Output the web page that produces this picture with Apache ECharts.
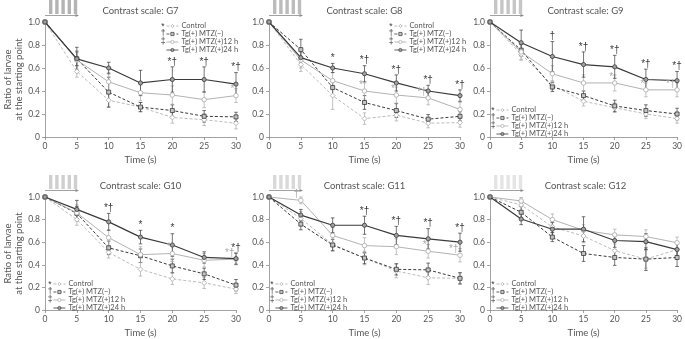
<!DOCTYPE html>
<html>
<head>
<meta charset="utf-8">
<script src="https://cdn.jsdelivr.net/npm/echarts@6/dist/echarts.min.js"></script>
<style>
  html, body { margin: 0; padding: 0; background: #fff; }
  #chart { width: 685px; height: 339px; }
</style>
</head>
<body>
<div id="chart"></div>
<script>
// Time points (s) and y-axis ticks
const times = [0, 5, 10, 15, 20, 25, 30];
const yTicks = [0, 0.2, 0.4, 0.6, 0.8, 1.0];

// Groups, in legend order, with their significance marks
const groupNames = ['Control', 'Tg(+) MTZ(−)', 'Tg(+) MTZ(+)12 h', 'Tg(+) MTZ(+)24 h'];
const groupMarks = ['*', '†', '‡', ''];

const panelTitles = ['Contrast scale: G7', 'Contrast scale: G8', 'Contrast scale: G9',
                     'Contrast scale: G10', 'Contrast scale: G11', 'Contrast scale: G12'];

// Ratio of larvae at the starting point: rows = Control, MTZ(−), MTZ(+)12 h, MTZ(+)24 h
const meanG7 = [
  [1, 0.57, 0.32, 0.26, 0.17, 0.15, 0.12],
  [1, 0.68, 0.39, 0.26, 0.23, 0.18, 0.175],
  [1, 0.67, 0.48, 0.385, 0.365, 0.325, 0.36],
  [1, 0.68, 0.60, 0.47, 0.50, 0.50, 0.46]
];
const errG7 = [
  [0, 0.05, 0.06, 0.04, 0.05, 0.05, 0.05],
  [0, 0.06, 0.13, 0.04, 0.05, 0.05, 0.04],
  [0, 0.08, 0.08, 0.07, 0.08, 0.07, 0.06],
  [0, 0.10, 0.05, 0.11, 0.11, 0.11, 0.10]
];
const meanG8 = [
  [1, 0.63, 0.36, 0.16, 0.19, 0.12, 0.125],
  [1, 0.76, 0.43, 0.30, 0.23, 0.155, 0.18],
  [1, 0.67, 0.49, 0.40, 0.365, 0.34, 0.24],
  [1, 0.69, 0.60, 0.55, 0.47, 0.40, 0.36]
];
const errG8 = [
  [0, 0.06, 0.12, 0.05, 0.05, 0.04, 0.04],
  [0, 0.09, 0.07, 0.06, 0.06, 0.04, 0.04],
  [0, 0.07, 0.07, 0.07, 0.07, 0.06, 0.06],
  [0, 0.06, 0.04, 0.07, 0.07, 0.05, 0.05]
];
const meanG9 = [
  [1, 0.72, 0.45, 0.31, 0.255, 0.20, 0.16],
  [1, 0.755, 0.435, 0.36, 0.27, 0.23, 0.20],
  [1, 0.74, 0.55, 0.47, 0.47, 0.41, 0.41],
  [1, 0.82, 0.70, 0.63, 0.61, 0.50, 0.49]
];
const errG9 = [
  [0, 0.05, 0.04, 0.04, 0.04, 0.04, 0.04],
  [0, 0.05, 0.04, 0.04, 0.05, 0.05, 0.05],
  [0, 0.07, 0.07, 0.07, 0.07, 0.06, 0.06],
  [0, 0.11, 0.13, 0.11, 0.10, 0.09, 0.08]
];
const meanG10 = [
  [1, 0.80, 0.51, 0.36, 0.275, 0.24, 0.185],
  [1, 0.855, 0.55, 0.48, 0.39, 0.32, 0.22],
  [1, 0.86, 0.64, 0.49, 0.50, 0.44, 0.45],
  [1, 0.89, 0.78, 0.645, 0.575, 0.465, 0.455]
];
const errG10 = [
  [0, 0.05, 0.05, 0.06, 0.05, 0.05, 0.04],
  [0, 0.06, 0.06, 0.06, 0.06, 0.05, 0.05],
  [0, 0.07, 0.07, 0.07, 0.07, 0.06, 0.05],
  [0, 0.08, 0.075, 0.06, 0.10, 0.05, 0.05]
];
const meanG11 = [
  [1, 0.81, 0.58, 0.46, 0.345, 0.285, 0.28],
  [1, 0.76, 0.575, 0.46, 0.36, 0.355, 0.28],
  [1, 0.97, 0.66, 0.57, 0.56, 0.52, 0.485],
  [1, 0.84, 0.75, 0.75, 0.66, 0.63, 0.60]
];
const errG11 = [
  [0, 0.06, 0.06, 0.06, 0.06, 0.06, 0.05],
  [0, 0.05, 0.05, 0.05, 0.05, 0.06, 0.05],
  [0, 0.03, 0.07, 0.07, 0.07, 0.06, 0.06],
  [0, 0.05, 0.065, 0.08, 0.08, 0.09, 0.08]
];
const meanG12 = [
  [1, 0.93, 0.735, 0.655, 0.525, 0.45, 0.535],
  [1, 0.865, 0.645, 0.50, 0.465, 0.45, 0.465],
  [1, 0.965, 0.80, 0.705, 0.665, 0.65, 0.595],
  [1, 0.805, 0.715, 0.715, 0.615, 0.605, 0.535]
];
const errG12 = [
  [0, 0.05, 0.05, 0.06, 0.06, 0.08, 0.06],
  [0, 0.05, 0.04, 0.07, 0.07, 0.10, 0.08],
  [0, 0.03, 0.05, 0.05, 0.05, 0.06, 0.05],
  [0, 0.05, 0.06, 0.11, 0.06, 0.07, 0.06]
];

// Significance marks above MTZ(+)24 h (black) and MTZ(+)12 h (grey)
const sig24G7  = ['', '', '', '', '*†', '*†', '*†'];
const sig12G7  = ['', '', '', '', '', '', '*'];
const sig24G8  = ['', '', '*', '*†', '*†', '*†', '*†'];
const sig12G8  = ['', '', '', '*', '*', '*†', ''];
const sig24G9  = ['', '', '†', '*†', '*†', '*†', '*†'];
const sig12G9  = ['', '', '', '', '*', '*', '*†'];
const sig24G10 = ['', '', '*†', '*', '*', '', '*†'];
const sig12G10 = ['', '', '', '', '*', '', '*†'];
const sig24G11 = ['', '', '', '*†', '*†', '*†', '*†'];
const sig12G11 = ['', '†', '', '', '', '*', '*†'];
const sig24G12 = ['', '', '', '', '', '', ''];
const sig12G12 = ['', '', '', '', '', '', ''];

const panelMeans = [meanG7, meanG8, meanG9, meanG10, meanG11, meanG12];
const panelErrs  = [errG7, errG8, errG9, errG10, errG11, errG12];
const panelSig24 = [sig24G7, sig24G8, sig24G9, sig24G10, sig24G11, sig24G12];
const panelSig12 = [sig12G7, sig12G8, sig12G9, sig12G10, sig12G11, sig12G12];

// ---- layout & styling ----
const FONT = 'Lato, "Liberation Sans", sans-serif';
const MARK_FONT = '"Liberation Sans", sans-serif';
const TEXT = '#555';
const AXIS = '#8a8a8a';
const LIGHT = '#a9a9a9';
const DARK = '#3a3a3a';

const plotBoxes = [
  { left: 45,  top: 22,  width: 191, height: 115 },
  { left: 269, top: 22,  width: 191, height: 115 },
  { left: 490, top: 22,  width: 191, height: 115 },
  { left: 45,  top: 197, width: 191, height: 114 },
  { left: 269, top: 197, width: 191, height: 114 },
  { left: 490, top: 197, width: 191, height: 114 }
];
const legendBoxes = [
  { left: 166, top: 22 }, { left: 394, top: 22 }, { left: 496, top: 106 },
  { left: 53, top: 280 }, { left: 275, top: 280 }, { left: 496, top: 280 }
];
const stripeColors = ['#b4b4b4', '#bcbcbc', '#c6c6c6', '#cfcfcf', '#d9d9d9', '#e4e4e4'];
const LEGEND_ROW = 7.6;

const groupStyles = [
  { color: LIGHT, type: [3, 2], width: 0.8, symbol: 'diamond', fill: '#fff', size: 5 },
  { color: DARK,  type: [3, 2], width: 1.0, symbol: 'rect',    fill: '#c4c4c4', size: 4 },
  { color: LIGHT, type: 'solid', width: 0.9, symbol: 'circle', fill: '#fff', size: 4.5 },
  { color: DARK,  type: 'solid', width: 1.2, symbol: 'circle', fill: '#a0a0a0', size: 4.2 }
];

const grids = [], xAxes = [], yAxes = [], series = [], titles = [], legends = [], graphics = [];

// label text for a significance mark comes from the data item itself
function markText(api) {
  return api.value(2);
}

plotBoxes.forEach((b, p) => {
  grids.push({ left: b.left, top: b.top, width: b.width, height: b.height, containLabel: false });
  xAxes.push({
    type: 'value', gridIndex: p, min: 0, max: 30, interval: 5,
    name: 'Time (s)', nameLocation: 'middle', nameGap: 18,
    nameTextStyle: { fontFamily: FONT, fontSize: 9.5, color: TEXT },
    axisLine: { lineStyle: { color: AXIS, width: 0.8 } },
    axisTick: { length: 3, lineStyle: { color: AXIS, width: 0.8 } },
    axisLabel: { fontFamily: FONT, fontSize: 8.5, color: TEXT, margin: 5 },
    splitLine: { show: false }
  });
  yAxes.push({
    type: 'value', gridIndex: p, min: yTicks[0], max: yTicks[yTicks.length - 1], interval: 0.2,
    name: p % 3 === 0 ? 'Ratio of larvae\nat the starting point' : '',
    nameLocation: 'middle', nameGap: 10,
    nameTextStyle: { fontFamily: FONT, fontSize: 9.5, color: TEXT, lineHeight: 11 },
    axisLine: { show: true, lineStyle: { color: AXIS, width: 0.8 } },
    axisTick: { show: true, length: 3, lineStyle: { color: AXIS, width: 0.8 } },
    axisLabel: { fontFamily: FONT, fontSize: 8.5, color: TEXT, margin: 5,
                 formatter: v => (v === 0 ? '0' : v.toFixed(1)) },
    splitLine: { show: false }
  });

  titles.push({
    text: panelTitles[p], left: b.left + b.width / 2, top: b.top - 16.5, textAlign: 'center', padding: 0,
    textStyle: { fontFamily: FONT, fontSize: 9.5, fontWeight: 'normal', color: TEXT }
  });

  const means = panelMeans[p], errs = panelErrs[p];

  // error bars (drawn beneath the lines)
  groupNames.forEach((g, gi) => {
    const st = groupStyles[gi];
    series.push({
      type: 'custom', xAxisIndex: p, yAxisIndex: p, z: 1, silent: true,
      data: times.map((t, k) => [t, means[gi][k], errs[gi][k]]),
      renderItem: (params, api) => {
        const x = api.value(0), m = api.value(1), e = api.value(2);
        if (!e) return null;
        const top = api.coord([x, m + e]), bot = api.coord([x, m - e]);
        const s = { stroke: st.color, lineWidth: 0.7 };
        return { type: 'group', children: [
          { type: 'line', shape: { x1: top[0], y1: top[1], x2: bot[0], y2: bot[1] }, style: s },
          { type: 'line', shape: { x1: top[0] - 1.8, y1: top[1], x2: top[0] + 1.8, y2: top[1] }, style: s },
          { type: 'line', shape: { x1: bot[0] - 1.8, y1: bot[1], x2: bot[0] + 1.8, y2: bot[1] }, style: s }
        ] };
      }
    });
  });

  // mean lines
  groupNames.forEach((g, gi) => {
    const st = groupStyles[gi];
    series.push({
      name: g, type: 'line', xAxisIndex: p, yAxisIndex: p, z: 2 + gi,
      data: times.map((t, k) => [t, means[gi][k]]),
      symbol: st.symbol, symbolSize: st.size, showAllSymbol: true,
      lineStyle: { color: st.color, width: st.width, type: st.type },
      itemStyle: { color: st.fill, borderColor: st.color, borderWidth: 0.8 },
      emphasis: { disabled: true }, animation: false
    });
  });

  // significance marks
  const sig24 = panelSig24[p], sig12 = panelSig12[p];
  series.push({
    type: 'custom', xAxisIndex: p, yAxisIndex: p, z: 10, silent: true,
    data: times.map((t, k) => [t, means[3][k] + errs[3][k], sig24[k]]).filter(d => d[2]),
    dimensions: ['x', 'y', { name: 'mark', type: 'ordinal' }],
    renderItem: (params, api) => {
      const c = api.coord([api.value(0), api.value(1)]);
      return { type: 'text', x: c[0], y: c[1] - 5,
        style: { text: markText(api), fill: DARK, font: '10px ' + MARK_FONT, align: 'center', verticalAlign: 'middle' } };
    },
    encode: { x: 0, y: 1 }
  });
  series.push({
    type: 'custom', xAxisIndex: p, yAxisIndex: p, z: 10, silent: true,
    data: times.map((t, k) => [t, means[2][k], sig12[k]]).filter(d => d[2]),
    dimensions: ['x', 'y', { name: 'mark', type: 'ordinal' }],
    renderItem: (params, api) => {
      const c = api.coord([api.value(0), api.value(1)]);
      return { type: 'text', x: c[0] - 1.5, y: c[1] - 6,
        style: { text: markText(api), fill: LIGHT, font: '10px ' + MARK_FONT, align: 'right', verticalAlign: 'middle' } };
    },
    encode: { x: 0, y: 1 }
  });

  // legend
  const lb = legendBoxes[p];
  legends.push({
    orient: 'vertical', left: lb.left, top: lb.top, padding: 0, itemGap: 0,
    itemWidth: 12, itemHeight: 4, selectedMode: false, data: groupNames,
    itemStyle: { borderWidth: 0.7 },
    lineStyle: { width: 0.8 },
    textStyle: { fontFamily: FONT, fontSize: 7.5, color: TEXT, lineHeight: LEGEND_ROW, padding: [0, 0, 0, -2] }
  });
  groupMarks.forEach((m, gi) => {
    if (!m) return;
    graphics.push({ type: 'text', x: lb.left - 3, y: lb.top + LEGEND_ROW / 2 + gi * LEGEND_ROW + 0.5,
      style: { text: m, fill: DARK, font: '8.5px ' + MARK_FONT, align: 'center', verticalAlign: 'middle' } });
  });

  // stimulus stripes with arrow
  const sTop = b.top - 22, sBot = b.top - 8;
  for (let i = 0; i < 5; i++) {
    graphics.push({ type: 'rect', shape: { x: b.left + 4 + i * 6.2, y: sTop, width: 3.4, height: sBot - sTop },
      style: { fill: stripeColors[p] }, silent: true });
  }
  const ay = b.top - 6.5;
  graphics.push({ type: 'line', shape: { x1: b.left, y1: ay, x2: b.left + 33, y2: ay },
    style: { stroke: '#8a8a8a', lineWidth: 0.8 }, silent: true });
  graphics.push({ type: 'polygon', shape: { points: [[b.left + 34, ay], [b.left + 30.5, ay - 1.6], [b.left + 30.5, ay + 1.6]] },
    style: { fill: '#8a8a8a' }, silent: true });
});

const chart = echarts.init(document.getElementById('chart'), null, { renderer: 'canvas' });
chart.setOption({
  animation: false,
  backgroundColor: '#fff',
  title: titles,
  legend: legends,
  grid: grids,
  xAxis: xAxes,
  yAxis: yAxes,
  series: series,
  graphic: graphics
});
</script>
</body>
</html>
